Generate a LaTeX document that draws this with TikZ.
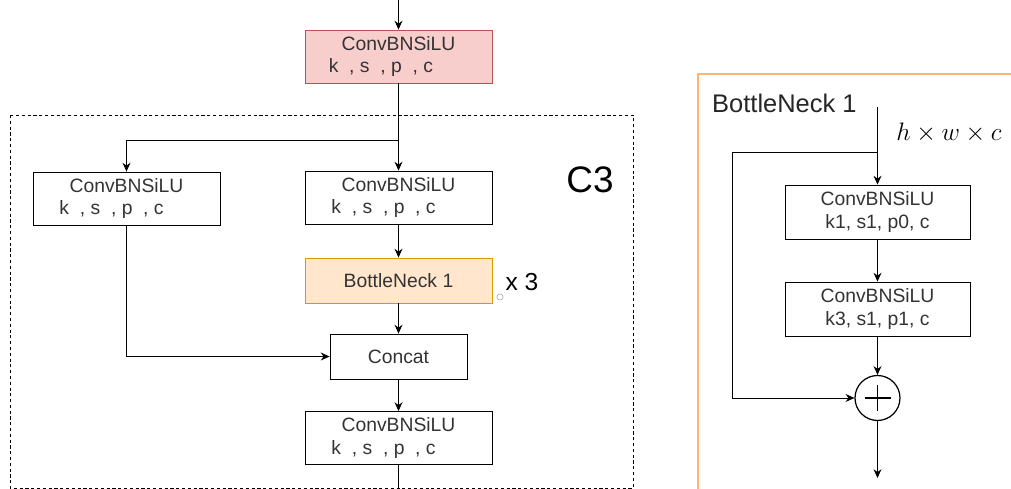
\documentclass[tikz,border=0pt]{standalone}
\usepackage{fontspec}
\setmainfont{Liberation Sans}
\usepackage{tikz}
\usetikzlibrary{arrows.meta, positioning, calc}
\definecolor{redfill}{HTML}{F8CECC}
\definecolor{redline}{HTML}{B85450}
\definecolor{orangefill}{HTML}{FFE6CC}
\definecolor{orangeline}{HTML}{D79B00}
\definecolor{frameline}{HTML}{FFB570}

\newcommand{\kspc}[1]{k\ \ , s\ \ , p\ \ , c\hphantom{\rule{#1}{0pt}}}

\tikzset{
    block/.style={draw, line width=0.5pt, minimum width=3.74cm, minimum height=1.06cm,
        align=center, font=\fontsize{11}{13}\selectfont, text=black!80, inner sep=1pt},
    arr/.style={-{Stealth[length=5pt, width=4.5pt]}, line width=0.5pt},
    wire/.style={line width=0.5pt}
}

\begin{document}
\begin{tikzpicture}[x=0.02cm, y=-0.02cm]
    \useasboundingbox (0,0) rectangle (1011,489);

    % C3 module
    \draw[wire, line width=0.45pt, dash pattern=on 1.8pt off 1.5pt] (10,115) rectangle (633,488);
    \node[font=\fontsize{21}{24}\selectfont] (ctitle) at (590,180) {C3};

    \coordinate (cin) at (398.5,0);
    \node[block, fill=redfill, draw=redline] (top) at (398.5,56.5)
        {ConvBNSiLU\\\kspc{20pt}};
    \coordinate (split) at (398.5,140);
    \node[block] (left) at (126.5,198.5) {ConvBNSiLU\\\kspc{17pt}};
    \node[block] (mid) at (398.5,197.5) {ConvBNSiLU\\\kspc{17pt}};
    \node[block, fill=orangefill, draw=orangeline, minimum height=0.9cm] (bneck) at (398.5,280.5) {BottleNeck 1};
    \node[font=\fontsize{14}{16}\selectfont] (rep) at (522,282) {x 3};
    \node[draw=gray!60, circle, inner sep=0pt, minimum size=3.5pt, line width=0.4pt] (dot) at (500,297) {};
    \node[block, minimum width=2.74cm, minimum height=0.9cm] (concat) at (398.5,356.5) {Concat};
    \node[block] (bot) at (398.5,438) {ConvBNSiLU\\\kspc{17pt}};
    \coordinate (cout) at (398.5,489);

    \draw[arr] (cin) -- (top.north);
    \draw[arr] (top.south) -- (mid.north);
    \draw[arr] (split) -| (left.north);
    \draw[arr] (mid.south) -- (bneck.north);
    \draw[arr] (bneck.south) -- (concat.north);
    \draw[arr] (left.south) |- (concat.west);
    \draw[arr] (concat.south) -- (bot.north);
    \draw[wire] (bot.south) -- (cout);

    % BottleNeck 1 detail
    \draw[frameline, line width=1.1pt] (1011,74) -- (698,74) -- (698,489);
    \node[anchor=west, font=\fontsize{14.5}{17}\selectfont, text=black!85] (btitle) at (706,103) {BottleNeck 1};
    \node[font=\fontsize{14}{16}\selectfont] (shape) at (949,133) {$h\times w\times c$};

    \coordinate (bin) at (877.5,107);
    \coordinate (bsplit) at (877.5,152);
    \coordinate (bskip) at (732,152);
    \node[block, minimum width=3.7cm, minimum height=1.08cm] (b1) at (877.5,212) {ConvBNSiLU\\k1, s1, p0, c};
    \node[block, minimum width=3.7cm, minimum height=1.08cm] (b2) at (877.5,309) {ConvBNSiLU\\k3, s1, p1, c};
    \node[draw, circle, line width=0.7pt, minimum size=0.9cm, inner sep=0pt] (add) at (877.5,398) {};
    \draw[line width=0.7pt] ($(add.center)+(-13,0)$) -- ($(add.center)+(13,0)$)
        ($(add.center)+(0,-13)$) -- ($(add.center)+(0,13)$);
    \coordinate (bout) at (877.5,478);

    \draw[arr] (bin) -- (b1.north);
    \draw[arr] (b1.south) -- (b2.north);
    \draw[arr] (b2.south) -- (add.north);
    \draw[arr] (bsplit) -- (bskip) |- (add.west);
    \draw[arr] (add.south) -- (bout);
\end{tikzpicture}
\end{document}
